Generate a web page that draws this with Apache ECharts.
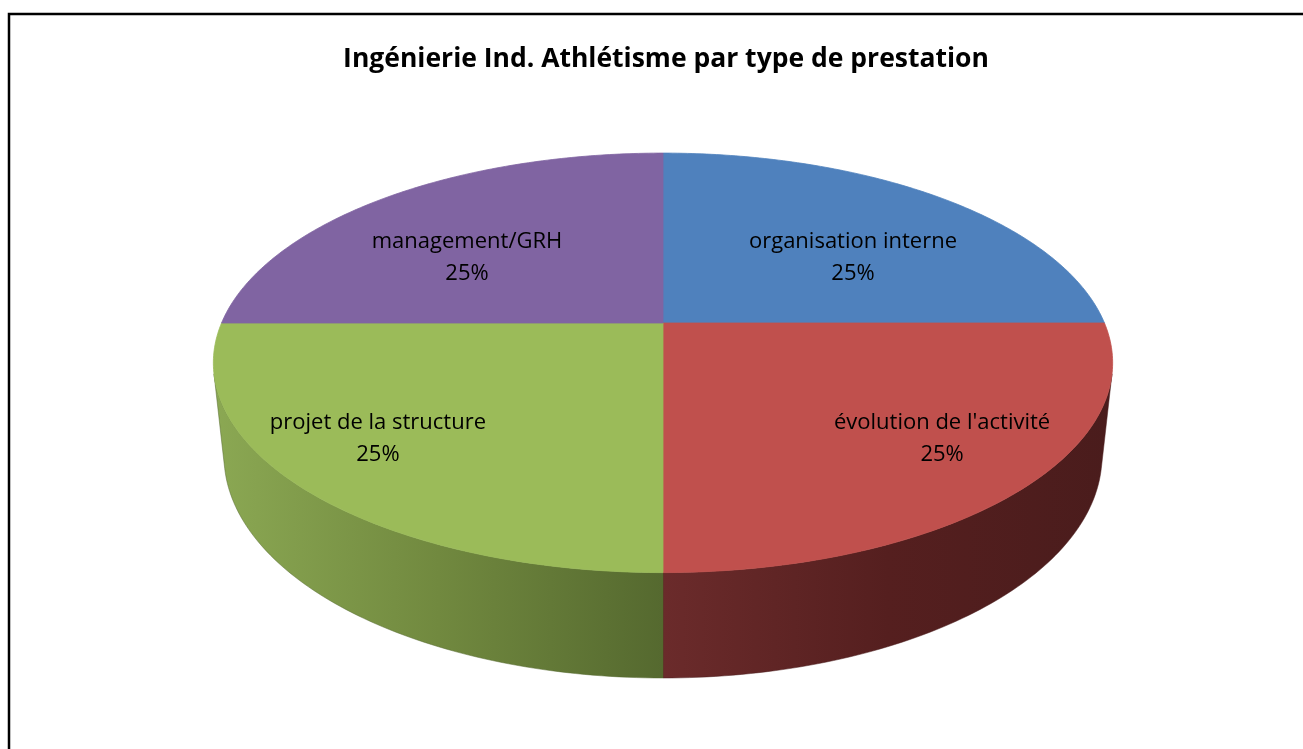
<!DOCTYPE html>
<html>
<head>
<meta charset="utf-8">
<script src="https://cdn.jsdelivr.net/npm/echarts@6/dist/echarts.min.js"></script>
<style>
  html, body { margin: 0; padding: 0; background: #fff; }
  #main { width: 1303px; height: 749px; }
</style>
</head>
<body>
<div id="main"></div>
<script>
// slices, clockwise from 12 o'clock
const categories = ['organisation interne', "évolution de l'activité", 'projet de la structure', 'management/GRH'];
const values = [25, 25, 25, 25];

const topColors = ['#4F81BD', '#C0504D', '#9BBB59', '#8064A2'];
// wall shading, left -> right
const wallColors = [
  ['#3A5F8C', '#2C4869'],
  ['#6B2B2B', '#551F1F', '#4A1C1C'],
  ['#8BA853', '#71893F', '#55692F'],
  ['#5F4A78', '#46375A']
];

const total = values.reduce((a, b) => a + b, 0);

// simple perspective camera looking down on the pie
const cx = 663, cy = 323;
const L = 4.68, cosA = 0.889, sinA = 0.458, f = 2066, thick = 0.2387;
function proj(X, Y, Z) {
  const d = L - (Y * cosA + Z * sinA);
  const u = Z * cosA - Y * sinA;
  return [cx + f * X / d, cy - f * u / d];
}
function onRim(t, Z) {
  return proj(Math.sin(t), -Math.cos(t), Z);
}
function sliceAngles(idx) {
  let before = 0;
  for (let i = 0; i < idx; i++) before += values[i];
  const a1 = before / total * Math.PI * 2;
  const a2 = (before + values[idx]) / total * Math.PI * 2;
  return [a1, a2];
}
// only the front part of the outer wall faces the camera
const yVis = 1 / (L * cosA);
const tv1 = Math.acos(-yVis), tv2 = Math.PI * 2 - Math.acos(-yVis);

function renderWall(params, api) {
  const idx = params.dataIndex;
  const [a1, a2] = sliceAngles(idx);
  const ta = Math.max(a1, tv1), tb = Math.min(a2, tv2);
  if (tb <= ta) return { type: 'group', children: [] };
  const n = 80, pts = [];
  for (let i = 0; i <= n; i++) pts.push(onRim(ta + (tb - ta) * i / n, 0));
  for (let i = n; i >= 0; i--) pts.push(onRim(ta + (tb - ta) * i / n, -thick));
  const cols = wallColors[idx];
  const stops = cols.map((c, i) => ({ offset: i / (cols.length - 1), color: c }));
  return {
    type: 'polygon',
    shape: { points: pts },
    style: {
      fill: new echarts.graphic.LinearGradient(0, 0, 1, 0, stops),
      stroke: cols[cols.length - 1],
      lineWidth: 0.5
    }
  };
}

function labelPoint(mid) {
  const c = Math.cos(mid);
  const r = 0.74 - 0.093 * c;
  const p = proj(r * Math.sin(mid), -r * c, 0);
  return [p[0] - 3, p[1] + 26 * c + 5];
}

function renderTop(params, api) {
  const idx = params.dataIndex;
  const [a1, a2] = sliceAngles(idx);
  const n = 120, pts = [proj(0, 0, 0)];
  for (let i = 0; i <= n; i++) pts.push(onRim(a1 + (a2 - a1) * i / n, 0));
  const lp = labelPoint((a1 + a2) / 2);
  const pct = Math.round(api.value(0) / total * 100);
  return {
    type: 'group',
    children: [
      {
        type: 'polygon',
        shape: { points: pts },
        style: { fill: topColors[idx], stroke: topColors[idx], lineWidth: 0.8 }
      },
      {
        type: 'text',
        x: lp[0],
        y: lp[1],
        z2: 10,
        style: {
          text: categories[idx] + '\n' + pct + '%',
          fill: '#000',
          font: '22px "Open Sans"',
          align: 'center',
          verticalAlign: 'middle',
          lineHeight: 32
        }
      }
    ]
  };
}

const pieData = values.map((v, i) => ({ name: categories[i], value: v }));

const chart = echarts.init(document.getElementById('main'));
chart.setOption({
  backgroundColor: '#fff',
  animation: false,
  title: {
    text: 'Ingénierie Ind. Athlétisme par type de prestation',
    left: 661,
    top: 41,
    textAlign: 'center',
    textStyle: { fontFamily: 'Open Sans', fontWeight: 'bold', fontSize: 26.5, color: '#000' }
  },
  graphic: [{
    type: 'rect',
    shape: { x: 9, y: 14, width: 1320, height: 780 },
    style: { fill: 'none', stroke: '#000', lineWidth: 2.5 },
    silent: true
  }],
  series: [
    { type: 'custom', coordinateSystem: 'none', z: 1, renderItem: renderWall, data: pieData, silent: true },
    { type: 'custom', coordinateSystem: 'none', z: 2, renderItem: renderTop, data: pieData, silent: true }
  ]
});
</script>
</body>
</html>
